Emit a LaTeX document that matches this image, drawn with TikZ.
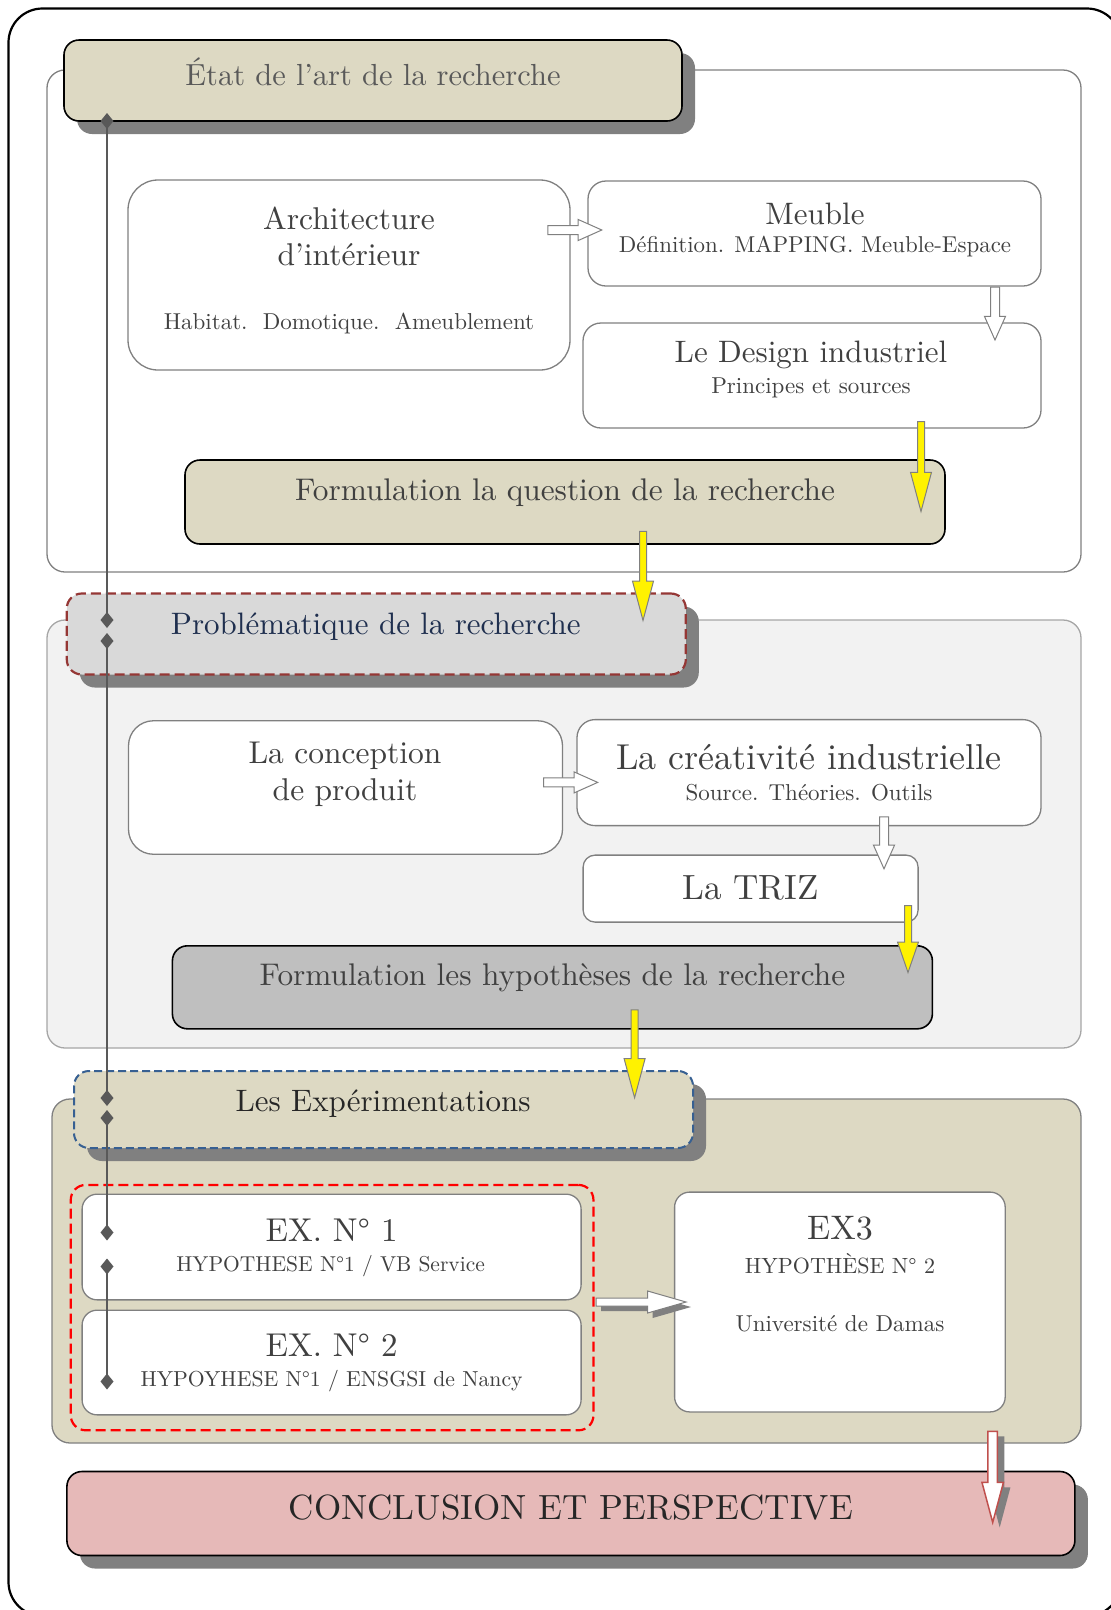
\documentclass[tikz,border=0pt]{standalone}
\usepackage{fontspec}
\setmainfont{lmroman10-regular}[Extension=.otf]
\usetikzlibrary{arrows.meta,shapes.arrows,shadows}

\definecolor{beige}{HTML}{DDD9C3}
\definecolor{lgray}{HTML}{F2F2F2}
\definecolor{mgray}{HTML}{D9D9D9}
\definecolor{dgray}{HTML}{BFBFBF}
\definecolor{rose}{HTML}{E6B9B8}
\definecolor{shade}{HTML}{808080}
\definecolor{edge}{HTML}{808080}
\definecolor{tgray}{HTML}{404040}
\definecolor{hgray}{HTML}{595959}
\definecolor{probtxt}{HTML}{1F2F4F}
\definecolor{ctxt}{HTML}{262626}
\definecolor{dred}{HTML}{953735}
\definecolor{dblue}{HTML}{376092}
\definecolor{arrred}{HTML}{C0504D}
\definecolor{tline}{HTML}{595959}

\tikzset{
  sec/.style={draw=edge, line width=1.3pt, rounded corners=18pt, inner sep=0pt},
  hdr/.style={draw=black, line width=1.6pt, rounded corners=15pt, inner sep=0pt},
  shd/.style={drop shadow={shadow xshift=13pt, shadow yshift=-13pt, fill=shade, opacity=1}},
  box/.style={draw=edge, line width=1.3pt, fill=white, rounded corners=18pt, inner sep=0pt},
  txt/.style={text=tgray, inner sep=0pt, font=\fontsize{#1}{#1}\selectfont},
  blk/.style={single arrow, draw=edge, line width=1pt, fill=white, inner xsep=0pt,
    inner ysep=4pt, single arrow head extend=6pt, single arrow tip angle=48,
    single arrow head indent=0pt, anchor=tail},
  yel/.style={single arrow, draw=edge, line width=1pt, fill=yellow, inner xsep=0pt,
    inner ysep=3pt, single arrow head extend=7pt, single arrow tip angle=30,
    single arrow head indent=0pt, rotate=-90, anchor=tail},
  tl/.style={draw=tline, line width=2pt,
    {Diamond[length=16pt,width=13pt]}-{Diamond[length=16pt,width=13pt]}},
}

\begin{document}
\begin{tikzpicture}[x=1pt,y=-1pt]
\useasboundingbox (0,0) rectangle (1111,1610);
\draw[line width=2.2pt, rounded corners=34pt] (8.5,8.5) rectangle (1121,1616);

% the three parts
\node[sec, fill=white, minimum width=1034pt, minimum height=502pt] (s1) at (564,321) {};
\node[sec, draw=edge!70, fill=lgray, minimum width=1034pt, minimum height=428pt] (s2) at (564,834) {};
\node[sec, fill=beige, minimum width=1029pt, minimum height=344pt] (s3) at (566.5,1271) {};

% etat de l'art
\node[hdr, shd, fill=beige, minimum width=618pt, minimum height=81pt] (etat) at (373,80.5) {};
\node[txt=30.5, text=hgray] (etat-t) at (373,72) {État de l’art de la recherche};

\node[box, rounded corners=30pt, minimum width=442pt, minimum height=190pt] (arch) at (349,275) {};
\node[txt=31.5] (arch-t1) at (349,218) {Architecture};
\node[txt=31.5] (arch-t2) at (349,255) {d’intérieur};
\node[txt=23] (arch-t3) at (349,323) {Habitat.\ \ Domotique.\ \ Ameublement};

\node[box, minimum width=453pt, minimum height=105pt] (meuble) at (814.5,233.5) {};
\node[txt=31] (meuble-t1) at (815,213.5) {Meuble};
\node[txt=22.9] (meuble-t2) at (815,246.5) {Définition. MAPPING. Meuble-Espace};

\node[box, minimum width=458pt, minimum height=105pt] (design) at (812,375.5) {};
\node[txt=31] (design-t1) at (811,355) {Le Design industriel};
\node[txt=23] (design-t2) at (811,388) {Principes et sources};

\node[hdr, fill=beige, minimum width=760pt, minimum height=84pt] (formq) at (565,502) {};
\node[txt=31.3] (formq-t) at (565,493) {Formulation la question de la recherche};

% problematique
\node[hdr, shd, fill=mgray, draw=dred, line width=2.2pt, dash pattern=on 10pt off 5pt,
  minimum width=619pt, minimum height=81pt] (prob) at (376.3,634) {};
\node[txt=31, text=probtxt] (prob-t) at (375.8,626.3) {Problématique de la recherche};

\node[box, rounded corners=25pt, minimum width=434pt, minimum height=133.5pt] (concep) at (345.5,787.5) {};
\node[txt=31.5] (concep-t1) at (345,755.7) {La conception};
\node[txt=31.5] (concep-t2) at (345,792.7) {de produit};

\node[box, minimum width=464pt, minimum height=106pt] (creat) at (809,772.6) {};
\node[txt=36] (creat-t1) at (809,756.8) {La créativité industrielle};
\node[txt=23] (creat-t2) at (809,792.7) {Source. Théories. Outils};

\node[box, rounded corners=12pt, minimum width=335pt, minimum height=67pt] (triz) at (750.6,888.6) {};
\node[txt=35] (triz-t) at (750.6,888.2) {La TRIZ};

\node[hdr, fill=dgray, minimum width=760pt, minimum height=83pt] (hyp) at (552.4,987.3) {};
\node[txt=31.3] (hyp-t) at (552.4,977.5) {Formulation les hypothèses de la recherche};

% experimentations
\node[hdr, shd, fill=beige, draw=dblue, line width=2pt, dash pattern=on 8pt off 4pt,
  minimum width=619pt, minimum height=77pt] (exp) at (383.5,1109.5) {};
\node[txt=31, text=ctxt] (exp-t) at (383,1103.8) {Les Expérimentations};

\node[box, rounded corners=15pt, minimum width=499pt, minimum height=105.7pt] (ex1) at (331.6,1247) {};
\node[txt=33] (ex1-t1) at (331.6,1230) {EX. N° 1};
\node[txt=21.5] (ex1-t2) at (330.6,1266) {HYPOTHESE N°1 / VB Service};

\node[box, rounded corners=15pt, minimum width=499pt, minimum height=104.7pt] (ex2) at (331.6,1362.5) {};
\node[txt=33] (ex2-t1) at (331.6,1345) {EX. N° 2};
\node[txt=21.7] (ex2-t2) at (331.6,1381) {HYPOYHESE N°1 / ENSGSI de Nancy};

\node[draw=red, line width=2.2pt, dash pattern=on 10pt off 5pt, rounded corners=15pt,
  inner sep=0pt, minimum width=522.7pt, minimum height=245.4pt] (grp) at (332.1,1307.6) {};

\node[box, rounded corners=15pt, minimum width=330.6pt, minimum height=219.8pt] (ex3) at (839.9,1302) {};
\node[txt=34] (ex3-t1) at (840,1228) {EX3};
\node[txt=22] (ex3-t2) at (840,1264) {HYPOTHÈSE N° 2};
\node[txt=23] (ex3-t3) at (840,1323.5) {Université de Damas};

% conclusion
\node[hdr, shd, fill=rose, minimum width=1008pt, minimum height=84pt] (concl) at (570.9,1513.5) {};
\node[txt=35, text=ctxt] (concl-t) at (570.9,1507.3) {CONCLUSION ET PERSPECTIVE};

% arrows
\node[blk, minimum height=54pt] (a1) at (547.3,230) {};
\node[blk, minimum height=53pt, rotate=-90] (a2) at (995,286.5) {};
\node[blk, minimum height=54pt] (a3) at (543.2,782.4) {};
\node[blk, minimum height=52pt, rotate=-90] (a4) at (884,816.3) {};
\node[blk, inner ysep=3.5pt, single arrow head extend=7pt, single arrow tip angle=32,
  minimum height=90pt, drop shadow={shadow xshift=5pt, shadow yshift=-5pt, fill=shade, opacity=1}]
  (a5) at (595.5,1302) {};

\node[yel, minimum height=90pt] (y1) at (921,421) {};
\node[yel, minimum height=89pt] (y2) at (643,530.9) {};
\node[yel, minimum height=67pt, single arrow tip angle=38] (y3) at (908,905) {};
\node[yel, minimum height=88pt] (y4) at (634.6,1009.3) {};

\node[single arrow, draw=arrred, line width=1.5pt, fill=white, inner xsep=0pt,
  inner ysep=4pt, single arrow head extend=6pt, single arrow tip angle=30,
  single arrow head indent=0pt, minimum height=91pt, rotate=-90, anchor=tail,
  drop shadow={shadow xshift=7pt, shadow yshift=-5pt, fill=shade, opacity=1}]
  (r1) at (992.7,1430.7) {};

% time line
\coordinate (t1) at (107,113);
\coordinate (t2) at (107,628);
\coordinate (t3) at (107,633);
\coordinate (t4) at (107,1106);
\coordinate (t5) at (107,1110);
\coordinate (t6) at (107,1240.5);
\coordinate (t7) at (107,1258.5);
\coordinate (t8) at (107,1389.5);
\draw[tl] (t1) -- (t2);
\draw[tl] (t3) -- (t4);
\draw[tl] (t5) -- (t6);
\draw[tl] (t7) -- (t8);
\end{tikzpicture}
\end{document}
